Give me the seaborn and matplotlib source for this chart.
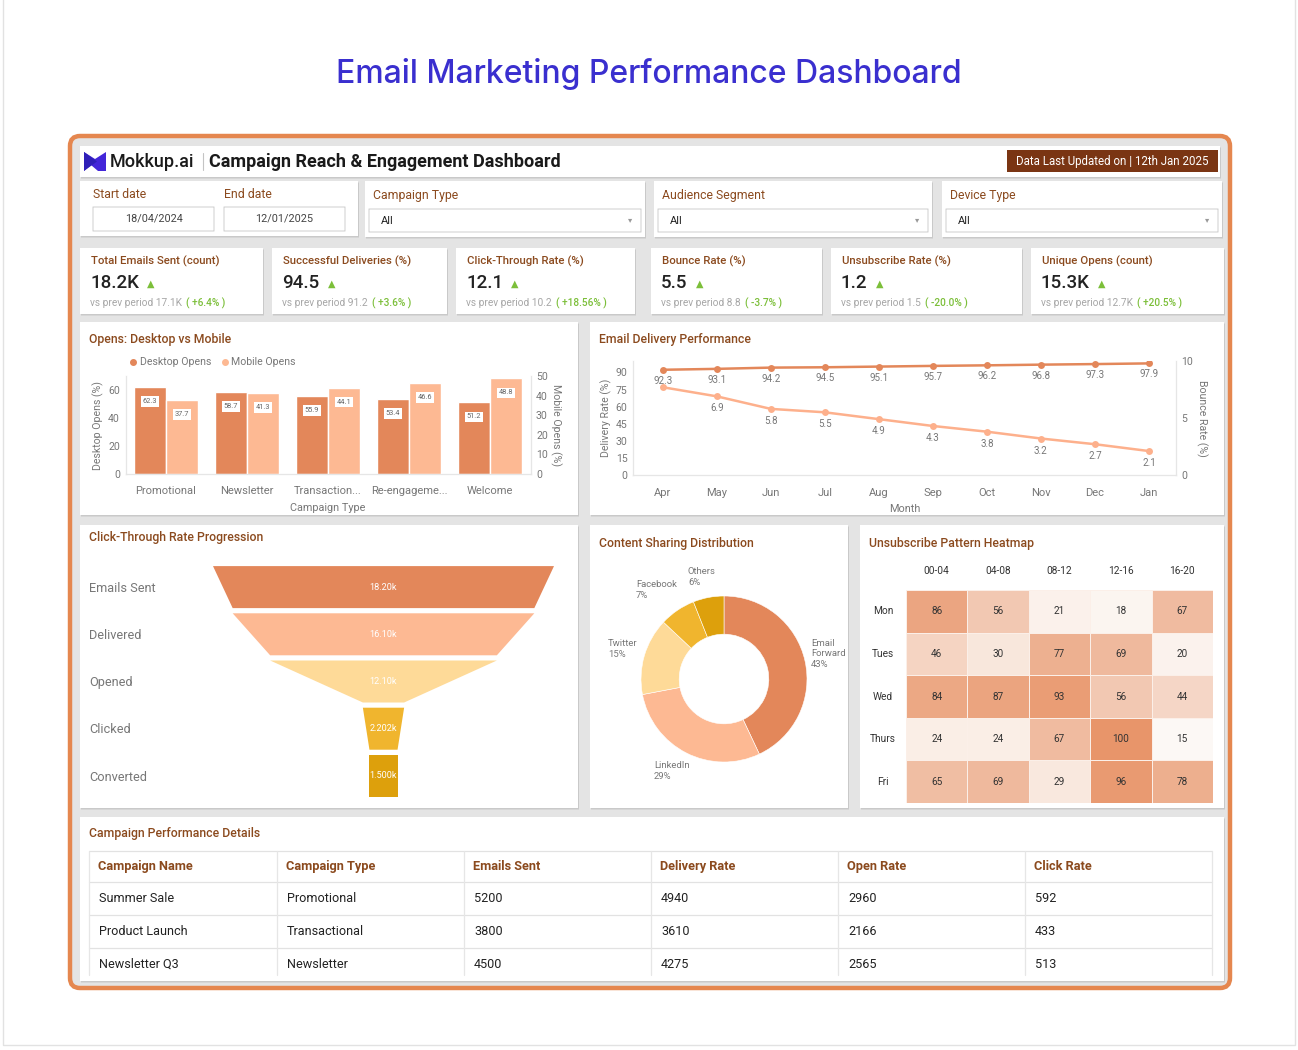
import numpy as np
import pandas as pd
import matplotlib
matplotlib.use("Agg")
import matplotlib.pyplot as plt
import seaborn as sns
from matplotlib.patches import FancyBboxPatch, Rectangle, Polygon
from matplotlib.colors import LinearSegmentedColormap

# ---------------- DATA ----------------
kpi_titles = ["Total Emails Sent (count)", "Successful Deliveries (%)", "Click-Through Rate (%)",
              "Bounce Rate (%)", "Unsubscribe Rate (%)", "Unique Opens (count)"]
kpi_values = ["18.2K", "94.5", "12.1", "5.5", "1.2", "15.3K"]
kpi_prev = ["17.1K", "91.2", "10.2", "8.8", "1.5", "12.7K"]
kpi_delta = ["+6.4%", "+3.6%", "+18.56%", "-3.7%", "-20.0%", "+20.5%"]

campaign_types = ["Promotional", "Newsletter", "Transaction...", "Re-engageme...", "Welcome"]
desktop_opens = [62.3, 58.7, 55.9, 53.4, 51.2]
mobile_opens = [37.7, 41.3, 44.1, 46.6, 48.8]

months = ["Apr", "May", "Jun", "Jul", "Aug", "Sep", "Oct", "Nov", "Dec", "Jan"]
delivery_rate = [92.3, 93.1, 94.2, 94.5, 95.1, 95.7, 96.2, 96.8, 97.3, 97.9]
bounce_rate = [7.7, 6.9, 5.8, 5.5, 4.9, 4.3, 3.8, 3.2, 2.7, 2.1]

funnel_stages = ["Emails Sent", "Delivered", "Opened", "Clicked", "Converted"]
funnel_values = [18200, 16100, 12100, 2202, 1500]
funnel_text = ["18.20k", "16.10k", "12.10k", "2.202k", "1.500k"]

share_channels = ["Email\nForward", "LinkedIn", "Twitter", "Facebook", "Others"]
share_pct = [43, 29, 15, 7, 6]

heat_days = ["Mon", "Tues", "Wed", "Thurs", "Fri"]
heat_slots = ["00-04", "04-08", "08-12", "12-16", "16-20"]
heat_values = [[86, 56, 21, 18, 67],
               [46, 30, 77, 69, 20],
               [84, 87, 93, 56, 44],
               [24, 24, 67, 100, 15],
               [65, 69, 29, 96, 78]]

table_columns = ["Campaign Name", "Campaign Type", "Emails Sent", "Delivery Rate", "Open Rate", "Click Rate"]
table_rows = [["Summer Sale", "Promotional", "5200", "4940", "2960", "592"],
              ["Product Launch", "Transactional", "3800", "3610", "2166", "433"],
              ["Newsletter Q3", "Newsletter", "4500", "4275", "2565", "513"]]

# ---------------- STYLE ----------------
sns.set_theme(style="white")
plt.rcParams['font.family'] = ['Roboto', 'DejaVu Sans']

C_DARK = "#E3875A"
C_PEACH = "#FDB993"
C_YEL = "#FEDA98"
C_GOLD = "#F0B52E"
C_MUST = "#DDA00C"
BROWN = "#8B4A1E"
GRAY = "#777777"
GREEN = "#7CBF3A"

W, H = 1298, 1050
fig = plt.figure(figsize=(W / 100, H / 100), dpi=100)
fig.patch.set_facecolor("white")


def rect(x, y, w, h):
    return [x / W, 1 - (y + h) / H, w / W, h / H]


bg = fig.add_axes([0, 0, 1, 1])
bg.set_xlim(0, W)
bg.set_ylim(H, 0)
bg.axis("off")


def box(x0, y0, x1, y1, fc="white", ec="none", lw=0, r=0, z=1, shadow=False):
    if shadow:
        bg.add_patch(FancyBboxPatch((x0 + 1, y0 + 1.5), x1 - x0, y1 - y0,
                                    boxstyle=f"round,pad=0,rounding_size={max(r, 0.01)}",
                                    fc="#c9c9c9", ec="none", zorder=z - 0.1))
    bg.add_patch(FancyBboxPatch((x0, y0), x1 - x0, y1 - y0,
                                boxstyle=f"round,pad=0,rounding_size={max(r, 0.01)}",
                                fc=fc, ec=ec, lw=lw, zorder=z))


def txt(x, y, s, size, color="#333333", weight="normal", ha="left", va="center", family=None, z=5, **kw):
    d = dict(fontsize=size, color=color, fontweight=weight, ha=ha, va=va, zorder=z)
    if family:
        d["family"] = family
    d.update(kw)
    return bg.text(x, y, s, **d)


# page card
bg.add_patch(Rectangle((3, -5), 1292, 1050, fc="white", ec="#e2e2e2", lw=1.0, zorder=0.5))
bg.add_patch(Rectangle((3, 1044), 1292, 2, fc="#d6d6d6", ec="none", zorder=0.4))

# title
txt(649, 74, "Email Marketing Performance Dashboard", 23, color="#3A2FCF", ha="center",
    family=["Inter", "DejaVu Sans"], weight="medium")

# orange frame
bg.add_patch(FancyBboxPatch((70, 138), 1160, 852, boxstyle="round,pad=0,rounding_size=10",
                            fc="#cfcfcf", ec="none", zorder=0.8))
bg.add_patch(FancyBboxPatch((70, 136), 1160, 852, boxstyle="round,pad=0,rounding_size=10",
                            fc="#e4e4e4", ec="#E5874F", lw=3.2, zorder=0.9))

# header
box(80, 146, 1220, 177, shadow=True)
bg.add_patch(Polygon([(84, 152), (95, 159), (106, 152), (106, 171), (98, 171), (91, 165), (84, 171)],
                     closed=True, fc="#4326D9", ec="none", zorder=3))
bg.add_patch(Polygon([(84, 152), (97, 161.5), (84, 171)], closed=True, fc="#2F1FB8", ec="none", zorder=3.1))
txt(110, 162, "Mokkup.ai", 13, color="#1a1a1a", weight="medium")
bg.plot([203, 203], [153, 170], color="#c4c4c4", lw=0.8, zorder=5)
txt(209, 162, "Campaign Reach & Engagement Dashboard", 13, color="#1a1a1a", weight="bold")
box(1007, 150, 1218, 172, fc="#7A3513")
txt(1112.5, 161, "Data Last Updated on | 12th Jan 2025", 8.3, color="white", ha="center")

# filters
box(80, 181, 358, 236, shadow=True)
txt(93, 194, "Start date", 8.8, color=BROWN)
txt(224, 194, "End date", 8.8, color=BROWN)
box(93, 207, 214, 231, fc="white", ec="#d4d4d4", lw=0.8, z=2)
box(224, 207, 345, 231, fc="white", ec="#d4d4d4", lw=0.8, z=2)
txt(153.5, 219, "18/04/2024", 7.8, color="#444444", ha="center")
txt(284.5, 219, "12/01/2025", 7.8, color="#444444", ha="center")

filters = [("Campaign Type", 365, 645), ("Audience Segment", 654, 932), ("Device Type", 942, 1222)]
for name, x0, x1 in filters:
    box(x0, 181, x1, 237, shadow=True)
    txt(x0 + 8, 196, name, 8.8, color=BROWN)
    box(x0 + 4, 209, x1 - 4, 232, fc="white", ec="#d4d4d4", lw=0.8, z=2)
    txt(x0 + 16, 220.5, "All", 8, color="#222222")
    txt(x1 - 15, 220, "▾", 6, color="#999999", ha="center")

# KPI cards
kpi_x = [(80, 263), (272, 447), (456, 635), (651, 822), (831, 1022), (1031, 1224)]
for i, (x0, x1) in enumerate(kpi_x):
    box(x0, 248, x1, 314, shadow=True)
    txt(x0 + 11, 261, kpi_titles[i], 8.2, color=BROWN, weight="medium")
    v = txt(x0 + 10, 283, kpi_values[i], 13.5, color="#222222", weight="medium")
    bg.annotate("▲", xy=(1, 0.45), xycoords=v, xytext=(6, 0), textcoords="offset points",
                fontsize=7, color=GREEN, ha="left", va="center", zorder=5)
    p = txt(x0 + 10, 303, "vs prev period " + kpi_prev[i], 7.3, color="#a6a6a6")
    bg.annotate("( " + kpi_delta[i] + " )", xy=(1, 0.5), xycoords=p, xytext=(3, 0),
                textcoords="offset points", fontsize=7.3, color=GREEN, ha="left", va="center",
                fontweight="medium", zorder=5)

# panels
panels = [(80, 322, 578, 515), (590, 322, 1224, 515), (80, 525, 578, 808),
          (590, 525, 848, 808), (860, 525, 1224, 808), (80, 817, 1224, 981)]
for (x0, y0, x1, y1) in panels:
    box(x0, y0, x1, y1, shadow=True)

txt(89, 339, "Opens: Desktop vs Mobile", 8.8, color=BROWN, weight="medium")
txt(599, 340, "Email Delivery Performance", 8.8, color=BROWN, weight="medium")
txt(89, 538, "Click-Through Rate Progression", 8.8, color=BROWN, weight="medium")
txt(599, 543, "Content Sharing Distribution", 8.8, color=BROWN, weight="medium")
txt(869, 543, "Unsubscribe Pattern Heatmap", 8.8, color=BROWN, weight="medium")
txt(89, 833, "Campaign Performance Details", 8.8, color=BROWN, weight="medium")


def style_axis(ax, spines=("bottom",)):
    for s in ax.spines:
        ax.spines[s].set_visible(s in spines)
        ax.spines[s].set_color("#e6e6e6")
        ax.spines[s].set_linewidth(0.8)
    ax.tick_params(length=0, labelsize=7.6, labelcolor=GRAY, pad=4)
    ax.tick_params(axis="x", labelsize=8, pad=9)
    ax.set_facecolor("none")


# ---------------- BAR CHART ----------------
bar_df = pd.DataFrame({
    "type": campaign_types * 2,
    "series": ["Desktop Opens"] * len(campaign_types) + ["Mobile Opens"] * len(campaign_types),
    "value": desktop_opens + mobile_opens,
})
pal = {"Desktop Opens": C_DARK, "Mobile Opens": C_PEACH}
hue_order = ["Desktop Opens", "Mobile Opens"]

axb = fig.add_axes(rect(125.5, 376, 405, 98))
sns.barplot(data=bar_df[bar_df.series == "Desktop Opens"], x="type", y="value", hue="series",
            hue_order=hue_order, order=campaign_types, palette=pal, saturation=1, width=0.8,
            dodge=True, legend=False, ax=axb, errorbar=None)
axb.set_ylim(0, 70)
axb.set_yticks([0, 20, 40, 60])
axb2 = axb.twinx()
axb2.set_position(rect(125.5, 376, 405, 98))
sns.barplot(data=bar_df[bar_df.series == "Mobile Opens"], x="type", y="value", hue="series",
            hue_order=hue_order, order=campaign_types, palette=pal, saturation=1, width=0.8,
            dodge=True, legend=False, ax=axb2, errorbar=None)
axb2.set_ylim(0, 50)
axb2.set_yticks([0, 10, 20, 30, 40, 50])
for a in (axb, axb2):
    style_axis(a, spines=("bottom", "left", "right"))
axb.set_xlabel("Campaign Type", fontsize=7.8, color=GRAY, labelpad=5)
axb.set_ylabel("Desktop Opens (%)", fontsize=7.6, color=GRAY, labelpad=3)
axb2.set_ylabel("Mobile Opens (%)", fontsize=7.6, color=GRAY, rotation=270, labelpad=10)
axb2.set_xlabel("")
for a in (axb, axb2):
    for c in a.containers:
        a.bar_label(c, fmt="%.1f", padding=-13, fontsize=5.3, color="#666666",
                    bbox=dict(facecolor="white", edgecolor="none", pad=1.3))
# legend
bg.plot([133], [362], "o", color=C_DARK, ms=4, zorder=6)
txt(140, 362, "Desktop Opens", 7.6, color=GRAY)
bg.plot([225], [362], "o", color=C_PEACH, ms=4, zorder=6)
txt(231, 362, "Mobile Opens", 7.6, color=GRAY)

# ---------------- LINE CHART ----------------
line_df = pd.DataFrame({"pos": np.arange(len(months)), "month": months,
                        "delivery": delivery_rate, "bounce": bounce_rate})
axl = fig.add_axes(rect(633, 361, 543, 114))
sns.lineplot(data=line_df, x="pos", y="delivery", ax=axl, color=C_DARK, marker="o",
             markersize=5, markeredgewidth=0, linewidth=1.8)
axl.set_ylim(0, 100)
axl.set_yticks([0, 15, 30, 45, 60, 75, 90])
axl.set_xlim(-0.55, 9.5)
axl.set_xticks(line_df["pos"])
axl.set_xticklabels(months)
axl2 = axl.twinx()
axl2.set_position(rect(633, 361, 543, 114))
sns.lineplot(data=line_df, x="pos", y="bounce", ax=axl2, color="#FDB08C", marker="o",
             markersize=5, markeredgewidth=0, linewidth=1.8)
axl2.set_ylim(0, 10)
axl2.set_yticks([0, 5, 10])
axl2.set_xlim(-0.55, 9.5)
for a in (axl, axl2):
    style_axis(a, spines=("bottom", "left", "right"))
axl.set_xlabel("Month", fontsize=7.8, color=GRAY, labelpad=5)
axl.set_ylabel("Delivery Rate (%)", fontsize=7.6, color=GRAY, labelpad=3)
axl2.set_ylabel("Bounce Rate (%)", fontsize=7.6, color=GRAY, rotation=270, labelpad=10)
axl2.set_xlabel("")
for i, v in enumerate(delivery_rate):
    axl.annotate(f"{v:.1f}", (i, v), xytext=(0, -11), textcoords="offset pixels",
                 ha="center", va="center", fontsize=7, color=GRAY)
for i, v in enumerate(bounce_rate):
    if i == 0:
        continue
    axl2.annotate(f"{v:.1f}", (i, v), xytext=(0, -12), textcoords="offset pixels",
                  ha="center", va="center", fontsize=7, color=GRAY)

# ---------------- FUNNEL ----------------
axf = fig.add_axes(rect(213, 563.5, 341, 236))
axf.set_xlim(-9.1, 9.1)
axf.set_ylim(len(funnel_stages) - 0.5, -0.5)
axf.axis("off")
fcols = [C_DARK, C_PEACH, C_YEL, C_GOLD, C_MUST]
hgt = 0.89
for i, val in enumerate(funnel_values):
    top = val / 2000.0
    bot = (funnel_values[i + 1] if i < len(funnel_values) - 1 else val) / 2000.0
    yt, yb = i - hgt / 2, i + hgt / 2
    axf.add_patch(Polygon([(-top, yt), (top, yt), (bot, yb), (-bot, yb)], closed=True,
                          fc=fcols[i], ec="none"))
    axf.text(0, i, funnel_text[i], ha="center", va="center", fontsize=6.6, color="white")
    txt(89, 588 + i * 47.3, funnel_stages[i], 9.2, color=GRAY)

# ---------------- DONUT ----------------
axd = fig.add_axes(rect(724 - 90, 679 - 90, 180, 180))
axd.pie(share_pct, colors=[C_DARK, C_PEACH, C_YEL, C_GOLD, C_MUST], startangle=90,
        counterclock=False, wedgeprops=dict(width=0.46, edgecolor="white", linewidth=0.4))
axd.set_xlim(-90 / 83, 90 / 83)
axd.set_ylim(-90 / 83, 90 / 83)
donut_lbl_pos = [(811, 654), (654, 771), (608, 649), (636, 590), (688, 577)]
for (lx, ly), name, pct in zip(donut_lbl_pos, share_channels, share_pct):
    txt(lx, ly, f"{name}\n{pct}%", 6.8, color=GRAY, linespacing=1.25)

# ---------------- HEATMAP ----------------
heat_df = pd.DataFrame(heat_values, index=heat_days, columns=heat_slots)
cmap = LinearSegmentedColormap.from_list("unsub", ["#FCF8F5", "#E8956A"])
axh = fig.add_axes(rect(906, 590, 307, 213))
sns.heatmap(heat_df, ax=axh, cmap=cmap, vmin=15, vmax=100, annot=True, fmt="d", cbar=False,
            linewidths=0.4, linecolor="#fbefe8", annot_kws=dict(fontsize=7.2, color="#333333"))
axh.xaxis.tick_top()
axh.tick_params(axis="x", length=0, labelsize=7.3, labelcolor="#333333", pad=10)
axh.tick_params(axis="y", length=0, labelsize=7.3, labelcolor="#333333", pad=16.5)
plt.setp(axh.get_yticklabels(), rotation=0, ha="center")
plt.setp(axh.get_xticklabels(), rotation=0)
axh.set_xlabel("")
axh.set_ylabel("")

# ---------------- TABLE ----------------
col_x = [89, 277, 464, 651, 838, 1025, 1212]
row_y = [851, 882, 915, 948]
for y in row_y:
    bg.plot([col_x[0], col_x[-1]], [y, y], color="#e2e2e2", lw=0.9, zorder=3)
for x in col_x:
    bg.plot([x, x], [851, 975], color="#e6e6e6", lw=0.9, zorder=3)
for j, c in enumerate(table_columns):
    txt(col_x[j] + 9, 866.5, c, 9.2, color=BROWN, weight="bold")
row_centers = [898.5, 931.5, 964]
for r, row in enumerate(table_rows):
    for j, v in enumerate(row):
        txt(col_x[j] + 10, row_centers[r], v, 9.1, color="#222222")

fig.savefig("out.png", dpi=100, facecolor="white")
